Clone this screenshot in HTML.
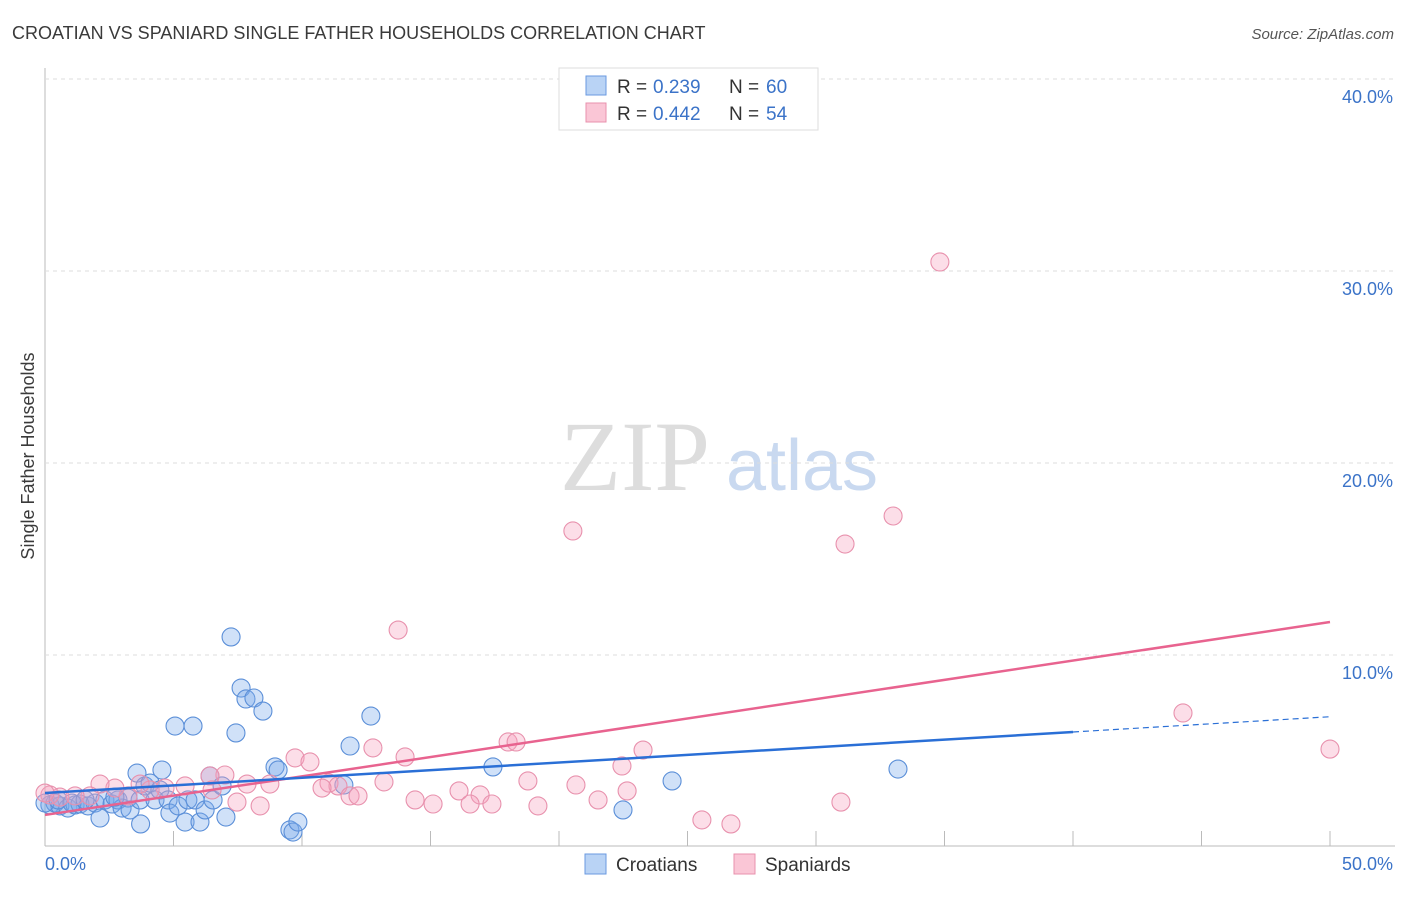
<!DOCTYPE html>
<html><head><meta charset="utf-8"><style>
body{margin:0;background:#fff;font-family:"Liberation Sans",sans-serif}
</style></head><body>
<svg id="c" width="1406" height="892" xmlns="http://www.w3.org/2000/svg">
<text x="12" y="39" font-size="18" fill="#3a3a3a">CROATIAN VS SPANIARD SINGLE FATHER HOUSEHOLDS CORRELATION CHART</text>
<text x="1394" y="39" font-size="15" fill="#555" font-style="italic" text-anchor="end">Source: ZipAtlas.com</text>
<text x="34" y="456" font-size="18" fill="#3a3a3a" text-anchor="middle" transform="rotate(-90 34 456)">Single Father Households</text>
<g><text x="635" y="490" font-size="100" font-family="Liberation Serif,serif" fill="#ddd" text-anchor="middle">ZIP</text><text x="802" y="490" font-size="72" fill="#c9d9f0" text-anchor="middle">atlas</text></g>
<g id="grid"></g><g id="marks"></g>
<g>
<rect x="559" y="68" width="259" height="62" fill="#fff" stroke="#ddd"/>
<rect x="586" y="76" width="20" height="19" fill="#b9d3f5" stroke="#6a9ae0"/>
<rect x="586" y="103" width="20" height="19" fill="#fac6d6" stroke="#e891ad"/>
<text x="617" y="93" font-size="19" fill="#333">R =</text><text x="653" y="93" font-size="19" fill="#3b73c8">0.239</text>
<text x="729" y="93" font-size="19" fill="#333">N =</text><text x="766" y="93" font-size="19" fill="#3b73c8">60</text>
<text x="617" y="120" font-size="19" fill="#333">R =</text><text x="653" y="120" font-size="19" fill="#3b73c8">0.442</text>
<text x="729" y="120" font-size="19" fill="#333">N =</text><text x="766" y="120" font-size="19" fill="#3b73c8">54</text>
</g>
<g>
<rect x="585" y="854" width="21" height="20" fill="#b9d3f5" stroke="#6a9ae0"/>
<text x="616" y="871" font-size="19" fill="#333">Croatians</text>
<rect x="734" y="854" width="21" height="20" fill="#fac6d6" stroke="#e891ad"/>
<text x="765" y="871" font-size="19" fill="#333">Spaniards</text>
</g>
</svg>
<script>
const blueX=[0.19,0.39,0.58,0.89,1.17,1.36,1.67,1.95,2.14,2.33,2.61,2.84,3.0,3.23,3.31,3.58,3.70,3.89,4.09,4.28,4.47,4.55,4.79,4.86,5.18,5.45,5.56,5.84,6.03,6.23,6.42,6.54,6.89,7.04,7.24,7.43,7.63,7.82,8.13,8.48,5.06,5.76,8.95,9.07,9.53,9.65,9.84,11.63,11.87,12.68,17.43,22.49,24.40,33.19,0,0.51,1.05,1.56,2.72,3.72];
const blueY=[2.19,2.29,2.14,2.03,2.19,2.24,2.14,2.29,1.51,2.45,2.24,2.45,2.03,2.55,1.93,3.85,2.45,3.18,3.33,2.45,2.97,4.01,2.45,1.77,2.14,1.30,2.45,2.45,1.30,1.93,3.70,2.45,3.18,1.56,10.94,5.94,8.28,7.71,7.76,7.08,6.30,6.30,4.17,4.01,0.89,0.78,1.30,3.23,5.26,6.82,4.17,1.93,3.44,4.06,2.29,2.45,2.29,2.45,2.60,1.20];
const pinkX=[34.82,20.54,31.13,33.0,13.74,44.28,50.0,18.02,18.33,23.27,22.45,18.79,20.66,22.65,21.52,14.01,12.76,16.11,16.93,16.54,17.39,19.18,14.40,15.10,30.97,25.56,26.69,9.73,10.31,11.05,11.40,11.87,12.18,13.19,10.78,8.75,7.86,7.47,7.0,6.42,6.50,5.45,4.67,4.09,3.70,3.23,2.72,2.14,1.75,1.17,0.58,0.19,0,8.37];
const pinkY=[30.47,16.46,15.78,17.24,11.30,6.98,5.10,5.47,5.47,5.05,4.22,3.44,3.23,2.92,2.45,4.69,5.16,2.92,2.71,2.24,2.24,2.14,2.45,2.24,2.34,1.41,1.20,4.64,4.43,3.33,3.18,2.66,2.66,3.39,3.07,3.28,3.28,2.34,3.75,3.70,2.97,3.18,3.07,2.97,3.28,2.66,3.07,3.28,2.66,2.66,2.60,2.71,2.81,2.14];
const yTicks=[10,20,30,40];
const yTickLabels=["10.0%","20.0%","30.0%","40.0%"];
const xTicks=[5,10,15,20,25,30,35,40,45,50];
const blueTrend=[2.81,0.0795];
const pinkTrend=[1.67,0.201];
const sx=v=>45+v*25.7, sy=v=>847-v*19.2;
const NS="http://www.w3.org/2000/svg";
const grid=document.getElementById('grid'), marks=document.getElementById('marks');
function mk(p,tag,a){const e=document.createElementNS(NS,tag);for(const k in a)e.setAttribute(k,a[k]);p.appendChild(e);return e;}
let e=mk(grid,'line',{x1:45,y1:68,x2:45,y2:846,stroke:'#bbb'});


e=mk(grid,'line',{x1:45,y1:846,x2:1395,y2:846,stroke:'#bbb'});


yTicks.forEach((t,i)=>{
 let g=mk(grid,'line',{x1:45,y1:sy(t),x2:1395,y2:sy(t),stroke:'#ddd','stroke-dasharray':'4,4'});
 
 
 let l=mk(grid,'text',{x:1393,y:sy(t)+24,'font-size':18,fill:'#3b73c8','text-anchor':'end'});l.textContent=yTickLabels[i];
 
 
});
xTicks.forEach(t=>{
 let g=mk(grid,'line',{x1:sx(t),y1:831,x2:sx(t),y2:846,stroke:'#bbb'});
 
 
});
[[0,"0.0%",45,'start'],[50,"50.0%",1393,'end']].forEach(a=>{
 let l=mk(grid,'text',{x:a[2],y:870,'font-size':18,fill:'#3b73c8','text-anchor':a[3]});l.textContent=a[1];
 
 
});
function pts(X,Y,fill,stroke,name){X.forEach((x,i)=>{
 let c=mk(marks,'circle',{cx:sx(x),cy:sy(Y[i]),r:9,fill:fill,stroke:stroke,'stroke-width':1.1});
 
 
});}
pts(blueX,blueY,'rgba(120,170,235,0.35)','#5b8fd8','croatian-point');
pts(pinkX,pinkY,'rgba(245,160,190,0.35)','#e891ad','spaniard-point');
let t=mk(marks,'line',{x1:sx(0),y1:sy(pinkTrend[0]),x2:sx(50),y2:sy(pinkTrend[0]+50*pinkTrend[1]),stroke:'#e8638f','stroke-width':2.5});


t=mk(marks,'line',{x1:sx(0),y1:sy(blueTrend[0]),x2:sx(40),y2:sy(blueTrend[0]+40*blueTrend[1]),stroke:'#2a6fd6','stroke-width':2.5});


t=mk(marks,'line',{x1:sx(40),y1:sy(blueTrend[0]+40*blueTrend[1]),x2:sx(50),y2:sy(blueTrend[0]+50*blueTrend[1]),stroke:'#2a6fd6','stroke-width':1.2,'stroke-dasharray':'6,4'});


</script>
</body></html>
